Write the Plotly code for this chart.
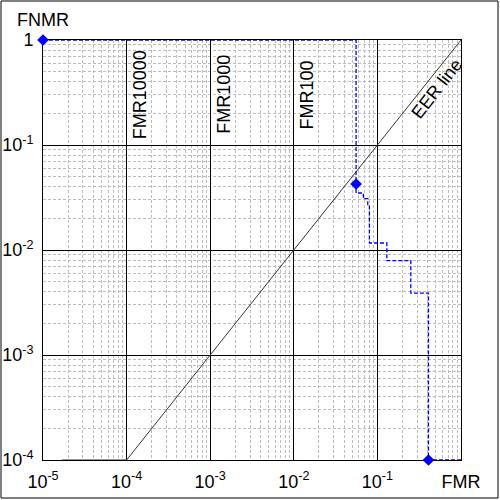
import plotly.graph_objects as go

# DET curve corner points (FMR, FNMR)
det_fmr = [1e-5, 0.0556, 0.0556, 0.0556, 0.0679, 0.0679, 0.0767, 0.0767, 0.0802,
           0.0802, 0.1297, 0.1297, 0.251, 0.251, 0.408, 0.408, 1.0]
det_fnmr = [1.0, 1.0, 0.0425, 0.0349, 0.0349, 0.0308, 0.0308, 0.0270, 0.0270,
            0.01166, 0.01166, 0.00791, 0.00791, 0.00389, 0.00389, 1e-4, 1e-4]

# highlighted points
mark_fmr = [1e-5, 0.0556, 0.408]
mark_fnmr = [1.0, 0.0425, 1e-4]

# EER line
eer_x = [1.7e-5, 1e-4, 1.0]
eer_y = [1e-4, 1e-4, 1.0]

# reference FMR lines
ref_labels = ["FMR10000", "FMR1000", "FMR100"]
ref_logx = [-4, -3, -2]

x_tickvals = [1e-5, 1e-4, 1e-3, 1e-2, 1e-1, 1]
x_ticktext = ["10<sup>-5</sup>", "10<sup>-4</sup>", "10<sup>-3</sup>",
              "10<sup>-2</sup>", "10<sup>-1</sup>", "FMR"]
y_tickvals = [1e-4, 1e-3, 1e-2, 1e-1, 1]
y_ticktext = ["10<sup>-4</sup>", "10<sup>-3</sup>", "10<sup>-2</sup>",
              "10<sup>-1</sup>", "1"]

FONT = "Liberation Sans, Arial, sans-serif"

fig = go.Figure()
fig.add_trace(go.Scatter(x=eer_x, y=eer_y, mode="lines",
                         line=dict(color="#333333", width=1),
                         hoverinfo="skip", cliponaxis=False))
fig.add_trace(go.Scatter(x=det_fmr, y=det_fnmr, mode="lines",
                         line=dict(color="#0000ff", width=1.3, dash="4px,2px"),
                         cliponaxis=False))
fig.add_trace(go.Scatter(x=mark_fmr, y=mark_fnmr, mode="markers",
                         marker=dict(symbol="diamond", size=9, color="#0000ff"),
                         cliponaxis=False))

common = dict(type="log", showline=True, mirror=True, linecolor="black",
              linewidth=1, showgrid=True, gridcolor="black", gridwidth=1,
              zeroline=False, ticks="", layer="below traces", automargin=False,
              tickfont=dict(family=FONT, size=18, color="black"),
              minor=dict(showgrid=True, gridcolor="#bdbdbd", griddash="3px,2px",
                         gridwidth=1, dtick="D1"))

fig.update_xaxes(range=[-5, 0], tickmode="array", tickvals=x_tickvals,
                 ticktext=x_ticktext, ticklabelstandoff=5, **common)
fig.update_yaxes(range=[-4, 0], tickmode="array", tickvals=y_tickvals,
                 ticktext=y_ticktext, ticklabelstandoff=5, **common)

annotations = []
for lab, lx in zip(ref_labels, ref_logx):
    annotations.append(dict(x=lx, y=-0.52, xref="x", yref="y", text=lab,
                            textangle=-90, showarrow=False, xanchor="left",
                            yanchor="middle", xshift=1,
                            font=dict(family=FONT, size=18, color="black")))
annotations.append(dict(x=-0.40, y=-0.40, xref="x", yref="y", text="EER line",
                        textangle=-52, showarrow=False, xanchor="center",
                        yanchor="middle", xshift=9, yshift=-7,
                        font=dict(family=FONT, size=18, color="black")))
annotations.append(dict(x=0, y=1, xref="paper", yref="paper", text="FNMR",
                        showarrow=False, xanchor="center", yanchor="middle",
                        yshift=20, font=dict(family=FONT, size=18, color="black")))

fig.update_layout(
    width=500, height=500,
    margin=dict(l=43, r=39, t=40, b=40),
    paper_bgcolor="white", plot_bgcolor="white",
    showlegend=False,
    annotations=annotations,
    shapes=[dict(type="rect", xref="paper", yref="paper",
                 x0=-42 / 418, x1=455 / 418, y0=-38 / 420, y1=459 / 420,
                 line=dict(color="black", width=1))],
)

fig.write_html("out.html",
               config={"displayModeBar": False},
               post_script="document.body.style.margin='0';")
